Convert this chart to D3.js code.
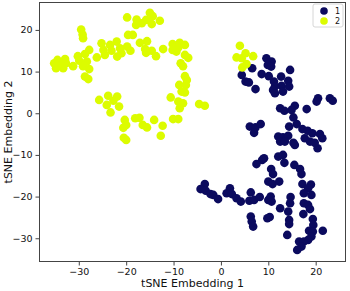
<!DOCTYPE html>
<html>
<head>
<meta charset="utf-8">
<script src="https://cdn.jsdelivr.net/npm/d3@7"></script>
<style>
  body { margin: 0; background: #fff; }
  text { font-family: "DejaVu Sans", sans-serif; }
</style>
</head>
<body>
<script>
// class 1 (navy)
var class1X = [9.6,10.7,9.9,10.6,6.6,8.6,10.1,4.4,5.2,5.9,7.3,14.6,12.7,14.2,11.2,11.4,12.8,14.4,11.0,13.1,11.4,
  18.1,15.6,14.9,12.5,13.4,20.5,20.2,23.0,23.6,15.3,6.1,7.3,8.4,7.0,14.4,16.0,17.2,18.3,19.3,17.7,20.9,21.4,20.4,
  18.8,19.8,12.1,13.1,14.2,12.5,13.5,15.3,15.6,9.1,8.7,7.5,12.1,13.1,13.4,15.5,16.7,17.0,10.6,11.0,10.0,10.9,12.3,
  17.2,19.0,18.4,17.5,19.1,1.9,-3.4,-4.3,-3.2,-2.2,-1.6,-0.6,1.2,2.3,3.3,4.2,6.3,6.0,7.0,8.2,10.5,10.0,10.7,14.7,
  14.6,14.2,12.5,17.5,18.4,18.8,17.4,6.3,6.5,6.8,9.8,10.3,14.4,14.4,19.4,19.5,18.6,19.4,21.5,14.0,19.1,18.4,16.5,
  17.5,17.0,16.1];
var class1Y = [13.2,12.4,11.6,11.2,10.8,9.4,8.9,9.2,7.6,7.4,5.8,10.4,8.8,7.8,7.6,6.4,6.6,6.4,5.6,5.2,4.8,
  1.0,1.8,0.8,1.2,0.6,3.6,2.8,3.6,3.0,-1.0,-3.2,-3.4,-2.6,-4.7,-3.2,-2.6,-3.8,-4.2,-4.8,-6.0,-5.0,-6.0,-8.4,
  -6.8,-7.1,-5.6,-5.8,-5.4,-6.8,-6.8,-7.1,-7.6,-10.8,-11.2,-12.2,-10.4,-10.0,-11.9,-12.4,-13.4,-14.6,-13.4,-14.6,-16.4,-17.0,-16.4,
  -17.0,-17.1,-18.0,-19.2,-19.6,-18.0,-17.0,-18.2,-18.6,-19.4,-19.6,-20.6,-19.2,-19.4,-20.4,-21.2,-19.0,-21.0,-20.8,-20.1,-20.0,-20.8,-21.2,-20.1,
  -21.6,-23.6,-22.8,-21.6,-22.0,-23.0,-24.2,-24.8,-26.0,-27.2,-25.2,-24.9,-25.6,-26.6,-25.4,-26.8,-28.2,-28.4,-28.2,-29.2,-29.6,-30.4,-30.8,
  -30.8,-32.0,-32.8];

// class 2 (yellow)
var class2X = [-19.8,-17.8,-17.9,-19.6,-18.6,-29.5,-29.2,-29.1,-25.2,-23.4,-22.0,-24.8,-23.1,-21.3,-19.8,-19.1,-21.0,
  -21.9,-24.5,-26.2,-27.8,-28.7,-30.2,-29.9,-28.3,-29.1,-27.8,-31.2,-32.9,-32.7,-33.3,-34.5,-35.2,-34.8,-34.1,-28.7,-28.0,
  -15.0,-14.4,-15.8,-16.7,-14.6,-12.9,-17.1,-15.6,-16.0,-15.8,-14.6,-13.7,-12.2,-10.2,-8.7,-7.6,-10.2,-9.4,-9.0,-7.6,
  -6.9,-8.5,-8.0,-7.6,-7.2,-8.8,-7.4,-8.3,-7.6,-10.6,-9.0,-8.0,-8.7,-4.6,-3.4,-10.1,-9.0,-25.7,-23.8,-21.9,-24.1,
  -22.7,-21.5,-23.3,-20.3,-20.0,-20.6,-18.1,-17.2,-16.5,-15.6,-14.1,-12.3,-12.7,-20.5,-20.0,4.0,3.3,4.4,5.2,6.8,4.5,5.4];
var class2Y = [23.0,22.5,21.2,18.8,18.8,20.1,18.9,18.0,16.8,16.4,17.2,15.2,15.0,15.6,16.0,15.0,14.4,
  13.6,14.0,13.4,15.2,14.2,13.7,12.6,12.4,11.3,10.6,11.3,13.0,12.0,10.8,12.8,12.0,10.8,11.8,8.8,8.2,
  24.1,23.3,22.4,21.6,21.4,22.2,16.9,17.3,15.4,14.5,15.0,13.7,15.4,16.6,16.9,16.4,15.2,14.8,15.8,14.0,
  13.3,12.0,11.3,8.9,8.0,6.8,6.8,5.2,5.0,3.8,2.8,2.4,1.2,2.2,1.8,-1.4,-1.4,3.2,4.2,4.0,2.0,
  3.0,1.6,0.2,-1.6,-2.8,-3.5,-1.2,-1.1,-2.8,-3.4,-1.6,-3.0,-5.4,-5.9,-6.4,16.2,13.4,13.2,14.4,13.7,11.0,11.8];

var xTicks = [-30,-20,-10,0,10,20];
var yTicks = [-30,-20,-10,0,10,20];
var legendLabels = ["1","2"];
var colors = ["#0b0a5e","#dcfc00"];

var WIDTH = 350, HEIGHT = 291;
var LEFT = 39, TOP = 2, RIGHT = 346, BOTTOM = 262;

var translate = function (x,y) {
  return "translate("+x+","+y+")";
}

var xScale = d3.scaleLinear().domain([-38.4, 26.4]).range([LEFT, RIGHT]);
var yScale = d3.scaleLinear().domain([-35.7, 26.7]).range([BOTTOM, TOP]);

var svg = d3.select('body').append('svg')
  .attr('width', WIDTH)
  .attr('height', HEIGHT);

var drawSeries = function (xs, ys, color) {
  var pts = xs.map(function (x, i) { return [x, ys[i]]; });
  svg.append('g').selectAll('circle')
    .data(pts)
    .enter()
    .append('circle')
    .attr('cx', function (d) { return xScale(d[0]); })
    .attr('cy', function (d) { return yScale(d[1]); })
    .attr('r', 4.3)
    .attr('fill', color);
}

drawSeries(class1X, class1Y, colors[0]);
drawSeries(class2X, class2Y, colors[1]);

// frame
svg.append('rect')
  .attr('x', LEFT + 0.5).attr('y', TOP + 0.5)
  .attr('width', RIGHT - LEFT - 1).attr('height', BOTTOM - TOP - 1)
  .attr('fill', 'none').attr('stroke', '#444').attr('stroke-width', 1);

var xAxis = d3.axisBottom(xScale).tickValues(xTicks).tickSize(3.5).tickSizeOuter(0);
var yAxis = d3.axisLeft(yScale).tickValues(yTicks).tickSize(3.5).tickSizeOuter(0);

var gx = svg.append('g').attr('transform', translate(0, BOTTOM)).call(xAxis);
var gy = svg.append('g').attr('transform', translate(LEFT, 0)).call(yAxis);
[gx, gy].forEach(function (g) {
  g.select('.domain').remove();
  g.selectAll('line').attr('stroke', '#444');
  g.selectAll('text').attr('font-size', 9.5).attr('fill', '#111')
    .style('font-family', '"DejaVu Sans", sans-serif');
});

svg.append('text')
  .attr('x', (LEFT + RIGHT) / 2).attr('y', 287)
  .attr('text-anchor', 'middle').attr('font-size', 11).attr('fill', '#111')
  .text('tSNE Embedding 1');

svg.append('text')
  .attr('transform', translate(12, (TOP + BOTTOM) / 2) + ' rotate(-90)')
  .attr('text-anchor', 'middle').attr('font-size', 11).attr('fill', '#111')
  .text('tSNE Embedding 2');

// legend
var lg = svg.append('g').attr('transform', translate(313, 4));
lg.append('rect')
  .attr('width', 30).attr('height', 23).attr('rx', 2)
  .attr('fill', '#fff').attr('fill-opacity', 0.8)
  .attr('stroke', '#ccc').attr('stroke-width', 0.8);
legendLabels.forEach(function (lab, i) {
  lg.append('circle').attr('cx', 11).attr('cy', 7 + i * 10).attr('r', 3.8).attr('fill', colors[i]);
  lg.append('text').attr('x', 22).attr('y', 10 + i * 10)
    .attr('font-size', 8).attr('fill', '#111').text(lab);
});
</script>
</body>
</html>
